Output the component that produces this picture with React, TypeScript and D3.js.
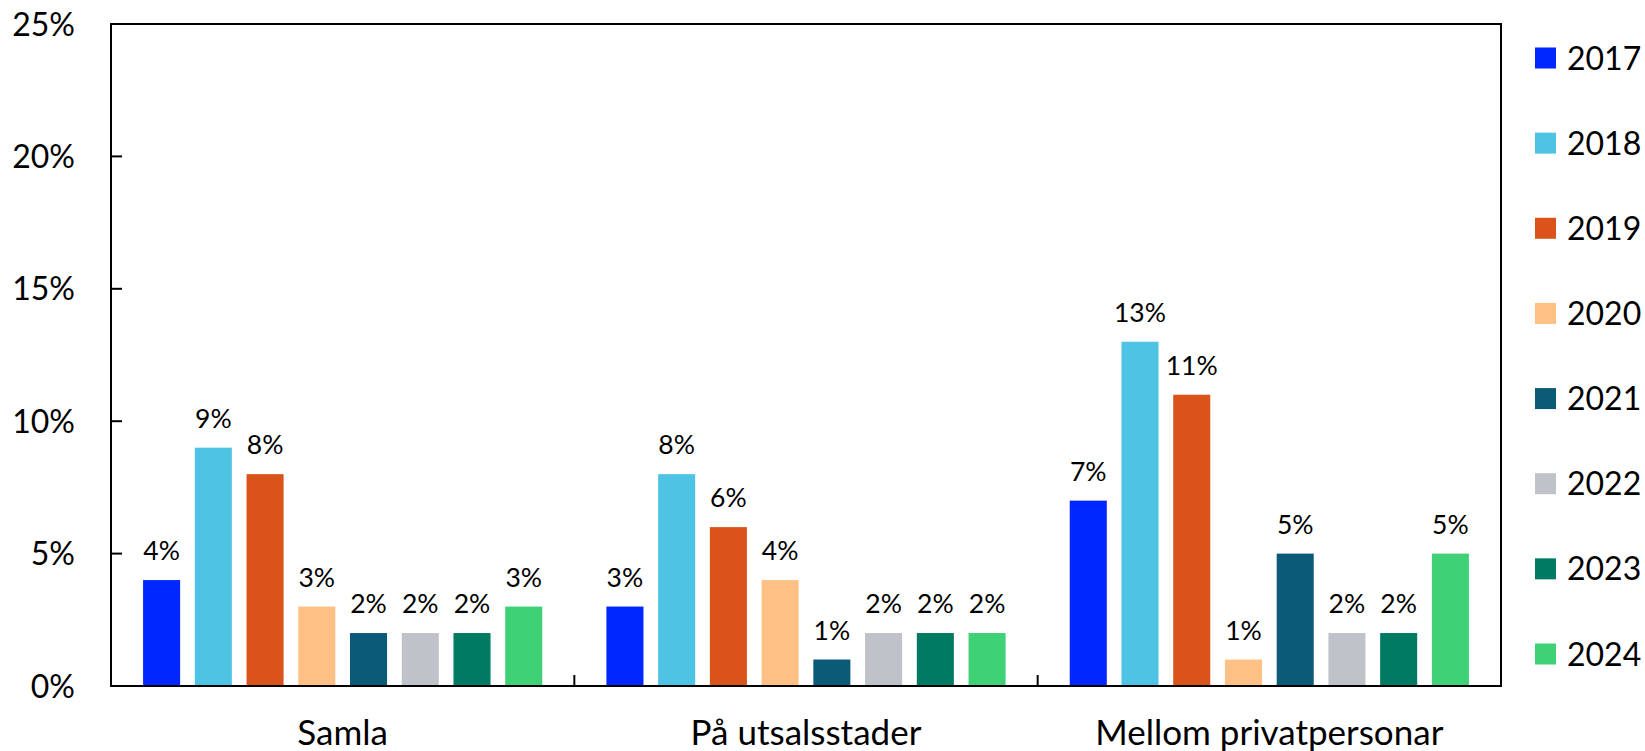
import * as d3 from "d3";

const categories = ["Samla", "På utsalsstader", "Mellom privatpersonar"];
const years = ["2017", "2018", "2019", "2020", "2021", "2022", "2023", "2024"];
const samla = [4, 9, 8, 3, 2, 2, 2, 3];
const utsalsstader = [3, 8, 6, 4, 1, 2, 2, 2];
const privatpersonar = [7, 13, 11, 1, 5, 2, 2, 5];
const yTicks = [0, 5, 10, 15, 20, 25];
const colors = ["#0026ff", "#4fc3e3", "#d9531a", "#ffc086", "#0b5a78", "#bfc2c8", "#007a62", "#3ed176"];

const seriesByCategory = [samla, utsalsstader, privatpersonar];

const width = 1645;
const height = 751;
const margin = { left: 111, right: 144, top: 24, bottom: 65 };
const font = "Lato, 'Open Sans', sans-serif";

export default function App() {
  const plotRight = width - margin.right;
  const plotBottom = height - margin.bottom;

  const x = d3.scaleBand<string>().domain(categories).range([margin.left, plotRight]).padding(0);
  const xInner = d3
    .scaleBand<string>()
    .domain(years)
    .range([0, x.bandwidth()])
    .paddingInner(0.284)
    .paddingOuter(0.62);
  const y = d3.scaleLinear().domain([0, 25]).range([plotBottom, margin.top]);

  const boundaries = [margin.left, ...categories.map((c) => (x(c) ?? 0) + x.bandwidth())];
  const legendY = d3.scalePoint<string>().domain(years).range([58, 654]);

  return (
    <svg
      width={width}
      height={height}
      style={{ position: "absolute", left: 0, top: 0, background: "#fff" }}
      fontFamily={font}
    >
      {categories.map((cat, ci) => (
        <g key={cat} transform={`translate(${x(cat)},0)`}>
          {years.map((yr, i) => {
            const v = seriesByCategory[ci][i];
            const bx = xInner(yr) ?? 0;
            return (
              <g key={yr}>
                <rect
                  x={bx}
                  y={y(v)}
                  width={xInner.bandwidth()}
                  height={plotBottom - y(v)}
                  fill={colors[i]}
                />
                <text
                  x={bx + xInner.bandwidth() / 2}
                  y={y(v) - 20}
                  textAnchor="middle"
                  fontSize={26.5}
                  fill="#000"
                >
                  {v}%
                </text>
              </g>
            );
          })}
          <text
            x={x.bandwidth() / 2}
            y={745}
            textAnchor="middle"
            fontSize={35}
            fill="#000"
          >
            {cat}
          </text>
        </g>
      ))}

      {/* frame */}
      <rect
        x={margin.left}
        y={margin.top}
        width={plotRight - margin.left}
        height={plotBottom - margin.top}
        fill="none"
        stroke="#000"
        strokeWidth={2}
      />

      {/* y ticks, inward */}
      {yTicks.map((t) => (
        <g key={t}>
          <line x1={margin.left} x2={margin.left + 11} y1={y(t)} y2={y(t)} stroke="#000" strokeWidth={2} />
          <text x={75} y={y(t)} dy="0.36em" textAnchor="end" fontSize={32} fill="#000">
            {t}%
          </text>
        </g>
      ))}

      {/* x ticks at category boundaries */}
      {boundaries.map((bx, i) => (
        <line key={i} x1={bx} x2={bx} y1={plotBottom} y2={plotBottom - 11} stroke="#000" strokeWidth={2} />
      ))}

      {/* legend */}
      {years.map((yr, i) => (
        <g key={yr} transform={`translate(1535,${legendY(yr)})`}>
          <rect x={0} y={-10.5} width={21} height={21} fill={colors[i]} />
          <text x={32} y={0} dy="0.36em" fontSize={32} fill="#000">
            {yr}
          </text>
        </g>
      ))}
    </svg>
  );
}
